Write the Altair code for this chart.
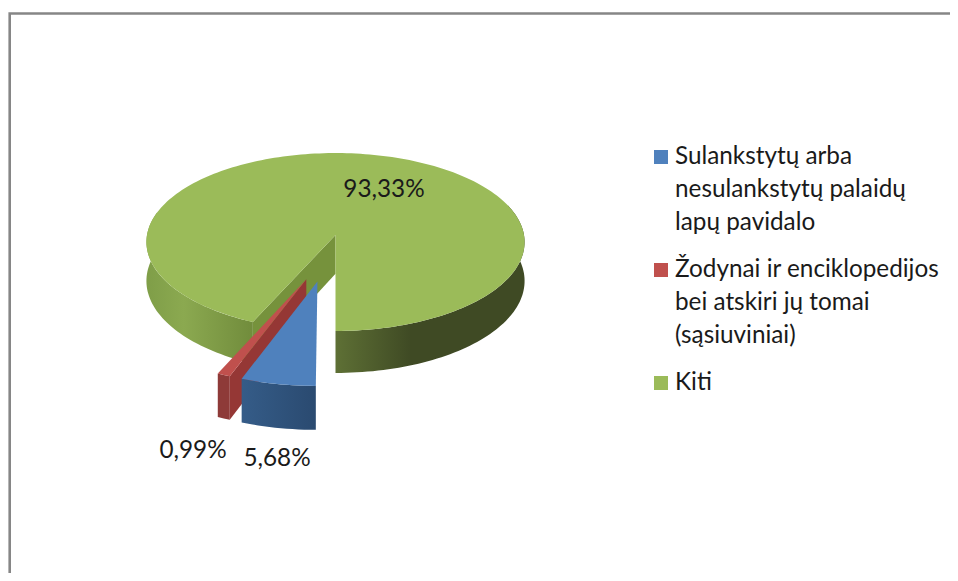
import math
import altair as alt

categories = ["Sulankstytų arba|nesulankstytų palaidų|lapų pavidalo",
              "Žodynai ir enciklopedijos|bei atskiri jų tomai|(sąsiuviniai)",
              "Kiti"]
values = [5.68, 0.99, 93.33]
value_labels = ["5,68%", "0,99%", "93,33%"]
colors = ["#4F81BD", "#C0504D", "#9BBB59"]

# pie geometry (pixels in the page, converted to chart space below)
M = 8
CX, CY, A, B, K, DEPTH = 335.5, 235.0, 188.5, 88.4, 0.0787, 38.7
EXPLODE = [(-0.092, 0.505), (-0.149, 0.482), (0.0, 0.0)]
LABEL_POS = [(277, 459), (193, 451), (384, 190)]
FIRST_ANGLE = 180.0
LEG_X, LEG_Y, LEG_TEXT_X, LINE_H, LEG_GAP = 661, 157, 675, 33, 14
FONT, FONT_SIZE, INK = "Lato", 24.3, "#1a1a1a"


def proj(u, v, drop=0.0):
    s = 1 / (1 - K * v)
    return [CX + A * u * s - M, CY + B * v * s + drop * s - M]


def rim(t, off, drop=0.0):
    r = math.radians(t)
    return proj(off[0] + math.sin(r), off[1] - math.cos(r), drop)


def arc(t0, t1, off, drop=0.0):
    n = max(2, int(abs(t1 - t0) / 1.5))
    return [rim(t0 + (t1 - t0) * i / n, off, drop) for i in range(n + 1)]


def feature(points, name="", kind="Polygon"):
    coords = [points + [points[0]]] if kind == "Polygon" else points
    return {"type": "Feature", "properties": {"name": name},
            "geometry": {"type": kind, "coordinates": coords}}


def shape_data(feats):
    return alt.Data(values={"type": "FeatureCollection", "features": feats},
                    format=alt.DataFormat(type="json", property="features"))


def grad(*stops):
    return alt.LinearGradient(
        gradient="linear", x1=0, x2=1, y1=0, y2=0,
        stops=[alt.GradientStop(offset=o, color=c) for o, c in stops])


def wall(t0, t1, off):
    return feature(arc(t0, t1, off) + arc(t1, t0, off, DEPTH))


def cut(t, off):
    return feature([proj(off[0], off[1]), proj(off[0], off[1], DEPTH),
                    rim(t, off, DEPTH), rim(t, off)])


def solid(feat, fill):
    return alt.Chart(shape_data([feat])).mark_geoshape(fill=fill, strokeWidth=0)


total = sum(values)
angles = [FIRST_ANGLE]
for val in values:
    angles.append(angles[-1] + val / total * 360)

color_scale = alt.Scale(domain=categories, range=colors)
layers = []

# frame
frame = feature([[9.7 - M, 590], [9.7 - M, 13.5 - M], [970, 13.5 - M]], kind="LineString")
layers.append(alt.Chart(shape_data([frame])).mark_geoshape(
    filled=False, stroke="#868686", strokeWidth=2.6))

# green walls
g0, g1 = angles[2], angles[3]
layers.append(solid(wall(g0, 285, EXPLODE[2]),
                    grad((0, "#7F9E48"), (0.35, "#8BA950"), (1, "#718C3C"))))
layers.append(solid(cut(g0, EXPLODE[2]), "#76923C"))
layers.append(solid(wall(g1 - 110, g1, EXPLODE[2]),
                    grad((0, "#5E7035"), (0.4, "#3F4A24"), (1, "#3F4A24"))))

# red walls
r0, r1 = angles[1], angles[2]
layers.append(solid(wall(r0, r1, EXPLODE[1]), "#8E3A38"))
layers.append(solid(cut(r0, EXPLODE[1]), "#953735"))

# blue wall
b0, b1 = angles[0], angles[1]
layers.append(solid(wall(b0, b1, EXPLODE[0]),
                    grad((0, "#355C88"), (1, "#2A4A70"))))

# top faces
tops = []
for name, off, t0, t1 in zip(categories, EXPLODE, angles[:-1], angles[1:]):
    tops.append(feature([proj(off[0], off[1])] + arc(t0, t1, off), name))
layers.append(alt.Chart(shape_data(tops)).mark_geoshape(strokeWidth=0).encode(
    color=alt.Color("properties.name:N", scale=color_scale, legend=None)))

# data labels
rows = [{"lon": x - M, "lat": y - M, "t": t} for (x, y), t in zip(LABEL_POS, value_labels)]
layers.append(alt.Chart(alt.Data(values=rows)).mark_text(
    font=FONT, fontSize=FONT_SIZE, color=INK, align="center", baseline="middle"
).encode(longitude="lon:Q", latitude="lat:Q", text="t:N"))

# legend, stacked from the number of lines in each entry
leg_rows = []
y = LEG_Y
for name in categories:
    leg_rows.append({"name": name, "sx": LEG_X - M, "tx": LEG_TEXT_X - M, "sy": y - M, "ty": y - M - 12})
    y += (name.count("|") + 1) * LINE_H + LEG_GAP
leg = alt.Data(values=leg_rows)
layers.append(alt.Chart(leg).mark_point(shape="square", filled=True, size=196, opacity=1, strokeWidth=0).encode(
    longitude="sx:Q", latitude="sy:Q",
    color=alt.Color("name:N", scale=color_scale, legend=None)))
layers.append(alt.Chart(leg).transform_calculate(lines="split(datum.name, '|')").mark_text(
    font=FONT, fontSize=FONT_SIZE, color=INK, align="left", baseline="top", lineHeight=LINE_H
).encode(longitude="tx:Q", latitude="ty:Q", text="lines:N"))

chart = alt.layer(*layers).project(
    type="identity", scale=1, translate=[0, 0]
).properties(
    width=942, height=565, padding=0,
    autosize=alt.AutoSizeParams(type="none"), background="white",
).configure_view(stroke=None)

chart.save("out.html", embed_options={"renderer": "svg", "actions": False})
